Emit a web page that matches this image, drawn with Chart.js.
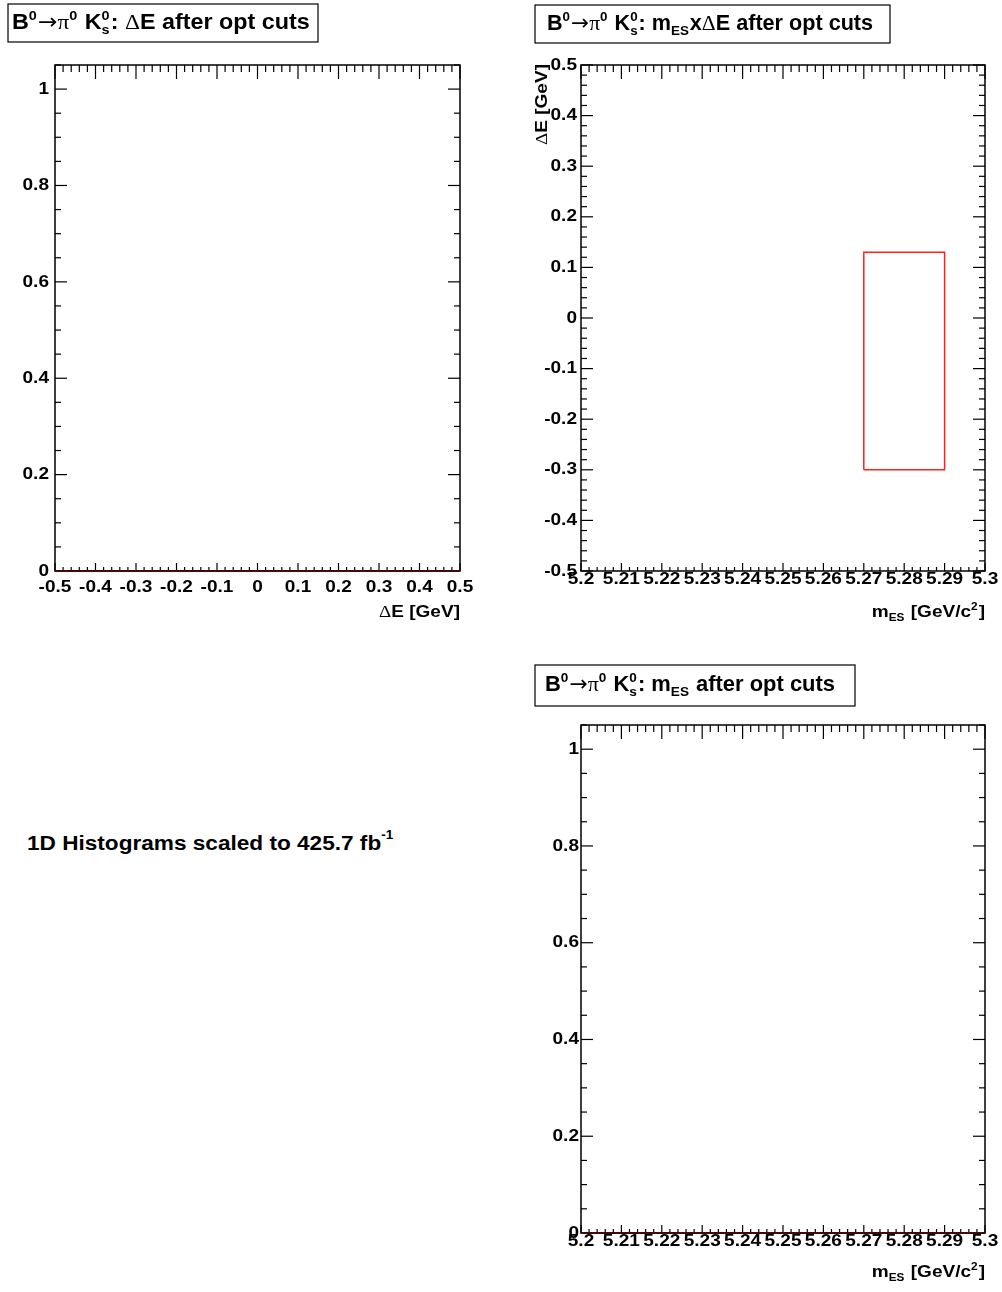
<!DOCTYPE html>
<html>
<head>
<meta charset="utf-8">
<script src="https://cdn.jsdelivr.net/npm/chart.js@4/dist/chart.umd.min.js"></script>
<style>
  body { margin: 0; background: #fff; }
  #page { position: relative; width: 1002px; height: 1292px; background: #fff; overflow: hidden; }
  canvas { position: absolute; }
  #note {
    position: absolute; left: 27px; top: 831px; white-space: nowrap;
    font: bold 20px "Liberation Sans", Arial, Helvetica, sans-serif;
    transform: scaleX(1.13); transform-origin: left top; color: #000;
  }
  #note sup { font-size: 12px; position: relative; top: -3px; }
</style>
</head>
<body>
<div id="page">
  <canvas id="deltaE" width="500" height="640" style="left:0;top:0"></canvas>
  <canvas id="mesDe" width="502" height="640" style="left:500px;top:0"></canvas>
  <canvas id="mes" width="502" height="652" style="left:500px;top:640px"></canvas>
  <div id="note">1D Histograms scaled to 425.7 fb<sup>-1</sup></div>
</div>
<script>
// axis ticks
const deTicks = [-0.5, -0.4, -0.3, -0.2, -0.1, 0, 0.1, 0.2, 0.3, 0.4, 0.5];
const deLabels = ['-0.5', '-0.4', '-0.3', '-0.2', '-0.1', '0', '0.1', '0.2', '0.3', '0.4', '0.5'];
const mesTicks = [5.2, 5.21, 5.22, 5.23, 5.24, 5.25, 5.26, 5.27, 5.28, 5.29, 5.3];
const mesLabels = ['5.2', '5.21', '5.22', '5.23', '5.24', '5.25', '5.26', '5.27', '5.28', '5.29', '5.3'];
const countTicks = [0, 0.2, 0.4, 0.6, 0.8, 1];
const countLabels = ['0', '0.2', '0.4', '0.6', '0.8', '1'];

// histogram contents after the optimised cuts (both empty)
const deBinEdges = [-0.5, -0.4, -0.3, -0.2, -0.1, 0, 0.1, 0.2, 0.3, 0.4, 0.5];
const deCounts = [0, 0, 0, 0, 0, 0, 0, 0, 0, 0, 0];
const mesBinEdges = [5.2, 5.21, 5.22, 5.23, 5.24, 5.25, 5.26, 5.27, 5.28, 5.29, 5.3];
const mesCounts = [0, 0, 0, 0, 0, 0, 0, 0, 0, 0, 0];

// signal box in the mES x deltaE plane
const cutMes = [5.27, 5.29];
const cutDe = [-0.3, 0.13];

const FONT = '"Liberation Sans", Arial, Helvetica, sans-serif';
const SYM = '"Liberation Serif", "DejaVu Serif", serif';
const ARROW = '"DejaVu Sans", sans-serif';
const HS = 1.12;      // horizontal stretch of the ROOT text
const LABEL_SIZE = 17;
const HIST_COLOR = '#400a0a';

// --- text helpers ---------------------------------------------------------
function fontFor(run, size, small) {
  const s = small ? size * 0.62 : size;
  const fam = run.sym ? SYM : run.arrow ? ARROW : FONT;
  return `${run.sym || run.arrow ? 'normal' : 'bold'} ${s}px ${fam}`;
}

function measureRun(ctx, run, size, hs) {
  if (run.t !== undefined) {
    ctx.font = fontFor(run, size, false);
    return ctx.measureText(run.t).width * hs;
  }
  ctx.font = fontFor(run, size, true);
  const a = run.sup ? ctx.measureText(run.sup).width : 0;
  const b = run.sub ? ctx.measureText(run.sub).width : 0;
  return Math.max(a, b) * hs + 1;
}

// draws a run list; if fit is given the text is stretched to that width
function drawRich(ctx, runs, x, y, size, align, hs, fit) {
  hs = hs || HS;
  if (fit) {
    const natural = runs.reduce((w, r) => w + measureRun(ctx, r, size, 1), 0);
    hs = fit / natural;
  }
  const total = runs.reduce((w, r) => w + measureRun(ctx, r, size, hs), 0);
  let cx = align === 'right' ? x - total : align === 'center' ? x - total / 2 : x;
  ctx.save();
  ctx.fillStyle = '#000';
  ctx.textAlign = 'left';
  ctx.textBaseline = 'alphabetic';
  runs.forEach(r => {
    const w = measureRun(ctx, r, size, hs);
    const put = (s, dy, small) => {
      ctx.save();
      ctx.font = fontFor(r, size, small);
      ctx.translate(cx, y + dy + (r.arrow ? -size * 0.02 : 0));
      ctx.scale(hs, 1);
      ctx.fillText(s, 0, 0);
      ctx.restore();
    };
    if (r.t !== undefined) put(r.t, 0, false);
    if (r.sup) put(r.sup, -size * 0.42, true);
    if (r.sub) put(r.sub, size * 0.24, true);
    cx += w;
  });
  ctx.restore();
  return total;
}

function drawLabel(ctx, s, x, y, align) {
  ctx.save();
  ctx.font = `bold ${LABEL_SIZE}px ${FONT}`;
  ctx.fillStyle = '#000';
  ctx.textBaseline = 'middle';
  const w = ctx.measureText(s).width * HS;
  const left = align === 'right' ? x - w : x - w / 2;
  ctx.translate(left, y);
  ctx.scale(HS, 1);
  ctx.textAlign = 'left';
  ctx.fillText(s, 0, 0);
  ctx.restore();
}

const decay = [
  { t: 'B' }, { sup: '0' }, { t: '\u2192', arrow: true }, { t: '\u03c0', sym: true },
  { sup: '0' }, { t: ' K' }, { sup: '0', sub: 's' }, { t: ': ' }
];
const deltaERuns = [{ t: '\u0394', sym: true }, { t: 'E [GeV]' }];
const mesRuns = [{ t: 'm' }, { sub: 'ES' }, { t: ' [GeV/c' }, { sup: '2' }, { t: ']' }];

// --- ROOT style frame, ticks, labels and titles ----------------------------
const rootAxes = {
  id: 'rootAxes',
  beforeDatasetsDraw(chart, args, o) {
    const { ctx, chartArea: a, scales } = chart;
    const xs = scales.x, ys = scales.y;
    ctx.save();
    ctx.strokeStyle = '#000';
    ctx.lineWidth = 1.5;
    ctx.strokeRect(a.left, a.top, a.right - a.left, a.bottom - a.top);

    const line = (x1, y1, x2, y2) => {
      ctx.beginPath(); ctx.moveTo(x1, y1); ctx.lineTo(x2, y2); ctx.stroke();
    };
    ctx.lineWidth = 1.2;
    // x ticks (major + minor)
    const xStep = o.xTicks[1] - o.xTicks[0];
    for (let i = 0; i < o.xTicks.length; i++) {
      for (let k = 0; k < o.xSub; k++) {
        const v = o.xTicks[i] + k * xStep / o.xSub;
        if (v > xs.max + 1e-9) break;
        const px = xs.getPixelForValue(v);
        const major = k === 0;
        line(px, a.bottom, px, a.bottom - (major ? 8 : 4));
        line(px, a.top, px, a.top + (major ? 14 : 7));
      }
    }
    // y ticks (major + minor)
    const yStep = o.yTicks[1] - o.yTicks[0];
    for (let i = 0; i < o.yTicks.length; i++) {
      for (let k = 0; k < o.ySub; k++) {
        const v = o.yTicks[i] + k * yStep / o.ySub;
        if (v > ys.max + 1e-9) break;
        const py = ys.getPixelForValue(v);
        const len = k === 0 ? 12 : 6;
        line(a.left, py, a.left + len, py);
        line(a.right, py, a.right - len, py);
      }
    }
    ctx.restore();

    o.xTicks.forEach((v, i) => drawLabel(ctx, o.xLabels[i], xs.getPixelForValue(v), a.bottom + o.xLabelGap, 'center'));
    o.yTicks.forEach((v, i) => drawLabel(ctx, o.yLabels[i], a.left - o.yLabelGap, ys.getPixelForValue(v), 'right'));

    drawRich(ctx, o.xTitle, a.right, a.bottom + o.xTitleGap, 17, 'right');
    if (o.yTitle) {
      ctx.save();
      ctx.translate(a.left - 34, a.top - 1);
      ctx.rotate(-Math.PI / 2);
      drawRich(ctx, o.yTitle, 0, 0, 17, 'right');
      ctx.restore();
    }

    // title box
    const b = o.box;
    ctx.save();
    ctx.strokeStyle = '#000';
    ctx.lineWidth = 1.2;
    ctx.strokeRect(b.x, b.y, b.w, b.h);
    ctx.restore();
    drawRich(ctx, o.title, b.tx, b.ty, 22, 'left', 1, b.tw);
  }
};

function stepData(edges, counts) {
  return edges.map((e, i) => ({ x: e, y: counts[Math.min(i, counts.length - 1)] }));
}

function baseOptions(pad, xr, yr, axes) {
  return {
    responsive: false,
    animation: false,
    events: [],
    layout: { padding: pad },
    scales: {
      x: { type: 'linear', min: xr[0], max: xr[1], display: false },
      y: { type: 'linear', min: yr[0], max: yr[1], display: false }
    },
    plugins: { legend: { display: false }, tooltip: { enabled: false }, rootAxes: axes }
  };
}

// deltaE after cuts
new Chart(document.getElementById('deltaE'), {
  type: 'line',
  data: {
    datasets: [{
      data: stepData(deBinEdges, deCounts), stepped: 'before',
      borderColor: HIST_COLOR, borderWidth: 2, pointRadius: 0, clip: 4
    }]
  },
  options: baseOptions({ left: 55, right: 40, top: 65, bottom: 69 }, [-0.5, 0.5], [0, 1.05], {
    xTicks: deTicks, xLabels: deLabels, xSub: 5,
    yTicks: countTicks, yLabels: countLabels, ySub: 4,
    xLabelGap: 16, yLabelGap: 6, xTitle: deltaERuns, xTitleGap: 46,
    box: { x: 8, y: 4, w: 310, h: 38, tx: 12, ty: 29, tw: 298 },
    title: decay.concat([{ t: '\u0394', sym: true }, { t: 'E after opt cuts' }])
  }),
  plugins: [rootAxes]
});

// mES x deltaE plane with the signal box
new Chart(document.getElementById('mesDe'), {
  type: 'line',
  data: {
    datasets: [{
      data: [
        { x: cutMes[0], y: cutDe[0] }, { x: cutMes[0], y: cutDe[1] },
        { x: cutMes[1], y: cutDe[1] }, { x: cutMes[1], y: cutDe[0] },
        { x: cutMes[0], y: cutDe[0] }
      ],
      borderColor: '#ff2020', borderWidth: 1.5, pointRadius: 0, tension: 0
    }]
  },
  options: baseOptions({ left: 81, right: 17, top: 65, bottom: 69 }, [5.2, 5.3], [-0.5, 0.5], {
    xTicks: mesTicks, xLabels: mesLabels, xSub: 5,
    yTicks: deTicks, yLabels: deLabels, ySub: 5,
    xLabelGap: 8, yLabelGap: 4, xTitle: mesRuns, xTitleGap: 46, yTitle: deltaERuns,
    box: { x: 35, y: 5, w: 355, h: 38, tx: 47, ty: 30, tw: 326 },
    title: decay.concat([{ t: 'm' }, { sub: 'ES' }, { t: 'x' }, { t: '\u0394', sym: true }, { t: 'E after opt cuts' }])
  }),
  plugins: [rootAxes]
});

// mES after cuts
new Chart(document.getElementById('mes'), {
  type: 'line',
  data: {
    datasets: [{
      data: stepData(mesBinEdges, mesCounts), stepped: 'before',
      borderColor: HIST_COLOR, borderWidth: 2, pointRadius: 0, clip: 4
    }]
  },
  options: baseOptions({ left: 81, right: 17, top: 85, bottom: 59 }, [5.2, 5.3], [0, 1.05], {
    xTicks: mesTicks, xLabels: mesLabels, xSub: 5,
    yTicks: countTicks, yLabels: countLabels, ySub: 4,
    xLabelGap: 8, yLabelGap: 2, xTitle: mesRuns, xTitleGap: 44,
    box: { x: 35, y: 25, w: 320, h: 41, tx: 45, ty: 51, tw: 290 },
    title: decay.concat([{ t: 'm' }, { sub: 'ES' }, { t: ' after opt cuts' }])
  }),
  plugins: [rootAxes]
});
</script>
</body>
</html>
